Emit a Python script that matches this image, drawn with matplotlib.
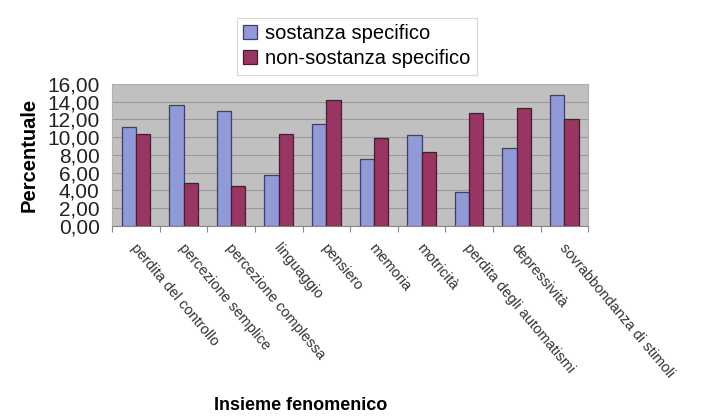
import matplotlib.pyplot as plt
import numpy as np

plt.rcParams['font.family'] = ['Liberation Sans', 'DejaVu Sans']

categories = [
    "perdita del controllo",
    "percezione semplice",
    "percezione complessa",
    "linguaggio",
    "pensiero",
    "memoria",
    "motricità",
    "perdita degli automatismi",
    "depressività",
    "sovrabbondanza di stimoli",
]
sostanza = [11.1, 13.6, 13.0, 5.75, 11.5, 7.55, 10.25, 3.8, 8.8, 14.8]
non_sostanza = [10.4, 4.8, 4.5, 10.4, 14.2, 9.95, 8.3, 12.7, 13.3, 12.05]
y_ticks = np.arange(0, 17, 2)

fig = plt.figure(figsize=(7.19, 4.16), dpi=100)
ax = fig.add_axes([0.156, 0.457, 0.662, 0.341])
ax.set_facecolor("#c0c0c0")

x = np.arange(len(categories))
width = 0.3

ax.bar(x - width / 2, sostanza, width, color="#9199d6", edgecolor="#3a3f6e",
       linewidth=0.9, label="sostanza specifico", zorder=3)
ax.bar(x + width / 2, non_sostanza, width, color="#983563", edgecolor="#4a1a33",
       linewidth=0.9, label="non-sostanza specifico", zorder=3)

ax.set_xlim(-0.5, len(categories) - 0.5)
ax.set_ylim(0, 16)
ax.set_yticks(y_ticks)
ax.set_yticklabels([f"{v:.2f}".replace(".", ",") for v in y_ticks],
                   fontsize=15, color="#222222")
ax.yaxis.grid(True, color="#9a9a9a", linewidth=0.8, zorder=0)

# group separators below the axis, labels start at group centres
ax.set_xticks(np.arange(len(categories) + 1) - 0.5)
ax.set_xticklabels([])
ax.tick_params(axis="x", length=4, color="#888888")
ax.tick_params(axis="y", length=0, pad=9)
for i, name in enumerate(categories):
    ax.annotate(name, xy=(i, 0), xycoords=("data", "axes fraction"),
                xytext=(2, -11), textcoords="offset points",
                rotation=-50, rotation_mode="anchor", ha="left", va="top",
                fontsize=10.5, color="#333333")

for side in ["top", "right", "left"]:
    ax.spines[side].set_color("#b0b0b0")
ax.spines["bottom"].set_color("#888888")

ax.set_ylabel("Percentuale", fontsize=14.5, fontweight="bold", labelpad=6)
fig.text(0.418, 0.025, "Insieme fenomenico", fontsize=13, fontweight="bold",
         ha="center", va="center")

leg = fig.legend(loc="upper left", bbox_to_anchor=(0.316, 0.98),
                 fontsize=14.5, frameon=True, fancybox=False, handlelength=0.7,
                 handleheight=0.7, handletextpad=0.4, borderpad=0.3,
                 labelspacing=0.3)
leg.get_frame().set_edgecolor("#cccccc")
leg.get_frame().set_linewidth(0.8)

fig.savefig("out.png", dpi=100)
plt.close(fig)
